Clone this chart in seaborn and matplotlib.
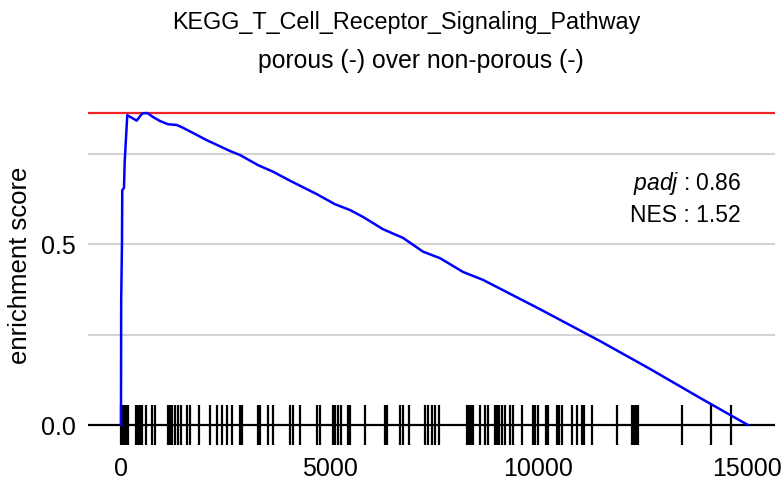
import matplotlib
matplotlib.use("Agg")
import matplotlib.pyplot as plt
import seaborn as sns
import pandas as pd
from matplotlib.ticker import FixedLocator

# ---- data ----
pathway_name = "KEGG_T_Cell_Receptor_Signaling_Pathway"
subtitle = "porous (-) over non-porous (-)"
padj_value = "0.86"
nes_value = "1.52"

# running enrichment score (rank, score)
curve_rank = [0, 5, 24, 31, 72, 89, 113, 151, 376, 510, 630, 767, 934, 1126,
              1335, 1454, 1725, 2053, 2372, 2612, 2852, 3283, 3642, 4049, 4689,
              5127, 5487, 5798, 6278, 6757, 7236, 7643, 8194, 8674, 10039,
              11477, 12675, 13873, 14592, 15023]
curve_es = [0.0, 0.341, 0.503, 0.649, 0.655, 0.727, 0.778, 0.856, 0.841, 0.861,
            0.862, 0.851, 0.840, 0.831, 0.829, 0.823, 0.807, 0.787, 0.770,
            0.757, 0.746, 0.718, 0.700, 0.675, 0.638, 0.610, 0.594, 0.575,
            0.541, 0.517, 0.479, 0.461, 0.423, 0.401, 0.320, 0.232, 0.155,
            0.075, 0.028, 0.0]

# ranks of the pathway genes (rug ticks)
hit_ranks = [10, 24, 72, 120, 168, 360, 408, 455, 503, 599, 743, 815, 1126,
             1174, 1222, 1294, 1366, 1438, 1582, 1653, 1869, 2133, 2300, 2420,
             2540, 2660, 2852, 2900, 3283, 3331, 3523, 3643, 4050, 4122, 4290,
             4697, 4769, 5080, 5128, 5200, 5272, 5440, 5488, 5847, 6326, 6374,
             6686, 6758, 6901, 7285, 7357, 7453, 7525, 7620, 8291, 8339, 8387,
             8435, 8602, 8722, 8794, 8962, 9010, 9058, 9130, 9202, 9322, 9394,
             9609, 9873, 9921, 9993, 10184, 10232, 10448, 10496, 10568, 10807,
             10927, 11047, 11095, 11287, 11886, 12246, 12294, 12342, 12390,
             13444, 14139, 14618]

es_max = 0.863
tick_half = 0.054

x_ticks = [0, 5000, 10000, 15000]
x_tick_labels = ["0", "5000", "10000", "15000"]
y_major = [0.0, 0.5]
y_major_labels = ["0.0", "0.5"]
y_minor = [0.25, 0.75]

# ---- styling ----
sns.set_theme(style="whitegrid")
plt.rcParams["font.family"] = ["Liberation Sans", "DejaVu Sans"]
plt.rcParams["mathtext.fontset"] = "custom"
plt.rcParams["mathtext.rm"] = "Liberation Sans"
plt.rcParams["mathtext.it"] = "Liberation Sans:italic"

W, H = 782, 487
fig = plt.figure(figsize=(W / 100, H / 100), dpi=100)
ax = fig.add_axes([88 / W, 1 - 450 / H, (775 - 88) / W, (450 - 96) / H])
ax.set_facecolor("white")

df = pd.DataFrame({"rank": curve_rank, "es": curve_es})

# grid lines
for yv in y_minor + [0.5]:
    ax.axhline(yv, color="#d4d4d4", lw=1.5, zorder=0)
ax.grid(False)

# red max line and black zero line
ax.axhline(es_max, color="#f02424", lw=1.6, zorder=1)
ax.axhline(0.0, color="black", lw=1.6, zorder=1)

# rug ticks
ax.vlines(hit_ranks, -tick_half, tick_half, color="black", lw=1.6, zorder=2)

# enrichment curve
sns.lineplot(data=df, x="rank", y="es", ax=ax, color="#0000ff", lw=1.8,
             zorder=3, estimator=None, sort=False)

ax.set_xlim(-790, 15670)
ax.set_ylim(-0.069, 0.909)
ax.xaxis.set_major_locator(FixedLocator(x_ticks))
ax.set_xticklabels(x_tick_labels)
ax.yaxis.set_major_locator(FixedLocator(y_major))
ax.set_yticklabels(y_major_labels)
ax.tick_params(axis="both", labelsize=18, length=0, colors="black")
ax.tick_params(axis="x", pad=5)
ax.tick_params(axis="y", pad=9)
for s in ax.spines.values():
    s.set_visible(False)

ax.set_xlabel("")
ax.set_ylabel("enrichment score", fontsize=18.5, color="black")
ax.yaxis.set_label_coords(-56 / 687, (450 - 265) / (450 - 96))

# titles
fig.text(406 / W, 1 - 29 / H, pathway_name, ha="center", va="baseline",
         fontsize=16.8, color="black")
fig.text(421 / W, 1 - 68 / H, subtitle, ha="center", va="baseline",
         fontsize=17.8, color="black")

# stats annotation
fig.text(741 / W, 1 - 190 / H, r"$\mathit{padj}$ : " + padj_value, ha="right",
         va="baseline", fontsize=16.5, color="black")
fig.text(741 / W, 1 - 222 / H, "NES : " + nes_value, ha="right",
         va="baseline", fontsize=16.5, color="black")

fig.savefig("out.png", dpi=100)
